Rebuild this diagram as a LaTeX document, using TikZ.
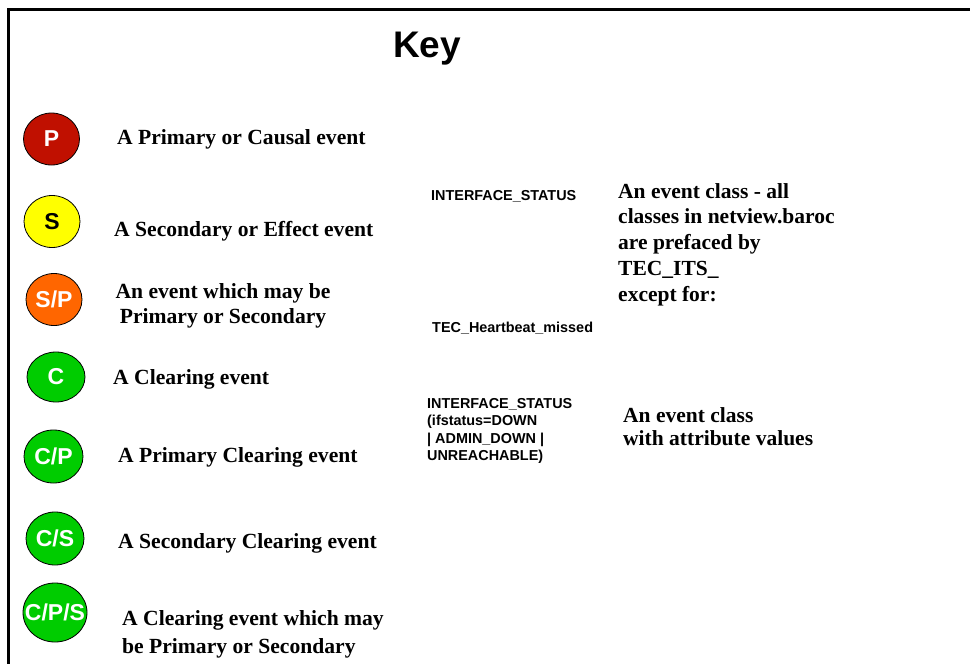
\documentclass[tikz,border=0pt]{standalone}
\usepackage{fontspec}
\setmainfont{Liberation Serif}
\setsansfont{Liberation Sans}
\usetikzlibrary{shapes.geometric}

\definecolor{evred}{RGB}{192,16,0}
\definecolor{evyellow}{RGB}{255,255,0}
\definecolor{evorange}{RGB}{255,102,0}
\definecolor{evgreen}{RGB}{0,204,0}

\tikzset{
  evt/.style={ellipse, draw=black, line width=0.8pt, inner sep=0pt,
    minimum width=56pt, minimum height=52pt},
  evtxt/.style={inner sep=0pt, text=white,
    font=\sffamily\bfseries\fontsize{23}{23}\selectfont},
  desc/.style={anchor=west, inner sep=0pt, align=left,
    font=\rmfamily\bfseries\fontsize{21.6}{25}\selectfont},
  cls/.style={anchor=west, inner sep=0pt, align=left,
    font=\sffamily\bfseries\fontsize{14.4}{17.3}\selectfont},
}

\begin{document}
\begin{tikzpicture}[x=1pt,y=-1pt]
  \useasboundingbox (0,0) rectangle (970,664);
  \fill[white] (0,0) rectangle (970,664);

  % frame
  \draw[line width=2.4pt] (8.5,664) -- (8.5,9.5) -- (970,9.5);

  % title
  \node[font=\sffamily\bfseries\fontsize{37}{37}\selectfont, inner sep=0pt] (title) at (427,48.5) {Key};

  % event symbols
  \node[evt, fill=evred, label={[evtxt]center:P}] (p) at (51.5,139) {};
  \node[evt, fill=evyellow, label={[evtxt, text=black]center:S}] (s) at (52,221.5) {};
  \node[evt, fill=evorange, label={[evtxt]center:S/P}] (sp) at (54,299.5) {};
  \node[evt, fill=evgreen, minimum width=58pt, minimum height=50pt, label={[evtxt]center:C}] (c) at (56,377) {};
  \node[evt, fill=evgreen, minimum width=59pt, minimum height=53pt, label={[evtxt]center:C/P}] (cp) at (53.5,456.5) {};
  \node[evt, fill=evgreen, minimum width=58pt, minimum height=53pt, label={[evtxt]center:C/S}] (cs) at (55,538.5) {};
  \node[evt, fill=evgreen, minimum width=64pt, minimum height=59pt, label={[evtxt]center:C/P/S}] (cps) at (55,612.5) {};

  % descriptions of the symbols
  \node[desc] (dp) at (117,139) {A Primary or Causal event};
  \node[desc] (ds) at (114,231.5) {A Secondary or Effect event};
  \node[desc, anchor=center, align=center] (dsp) at (223,305.5) {An event which may be\\ Primary or Secondary};
  \node[desc] (dc) at (113,379) {A Clearing event};
  \node[desc] (dcp) at (118,457) {A Primary Clearing event};
  \node[desc] (dcs) at (118,543) {A Secondary Clearing event};
  \node[desc, font=\rmfamily\bfseries\fontsize{21.6}{28}\selectfont] (dcps) at (122,634) {A Clearing event which may\\be Primary or Secondary};

  % event class examples
  \node[cls] (cls1) at (431,196) {INTERFACE\_STATUS};
  \node[cls] (cls2) at (432,328) {TEC\_Heartbeat\_missed};
  \node[cls] (cls3) at (427,431) {INTERFACE\_STATUS\\(ifstatus=DOWN\\| ADMIN\_DOWN |\\UNREACHABLE)};

  % event class explanations
  \node[desc, font=\rmfamily\bfseries\fontsize{21.5}{25.7}\selectfont] (ecls) at (618,244.5)
    {An event class - all\\classes in netview.baroc\\are prefaced by\\TEC\_ITS\_\\except for:};
  \node[desc, font=\rmfamily\bfseries\fontsize{21.5}{23}\selectfont] (eattr) at (623,426.5)
    {An event class\\with attribute values};
\end{tikzpicture}
\end{document}
